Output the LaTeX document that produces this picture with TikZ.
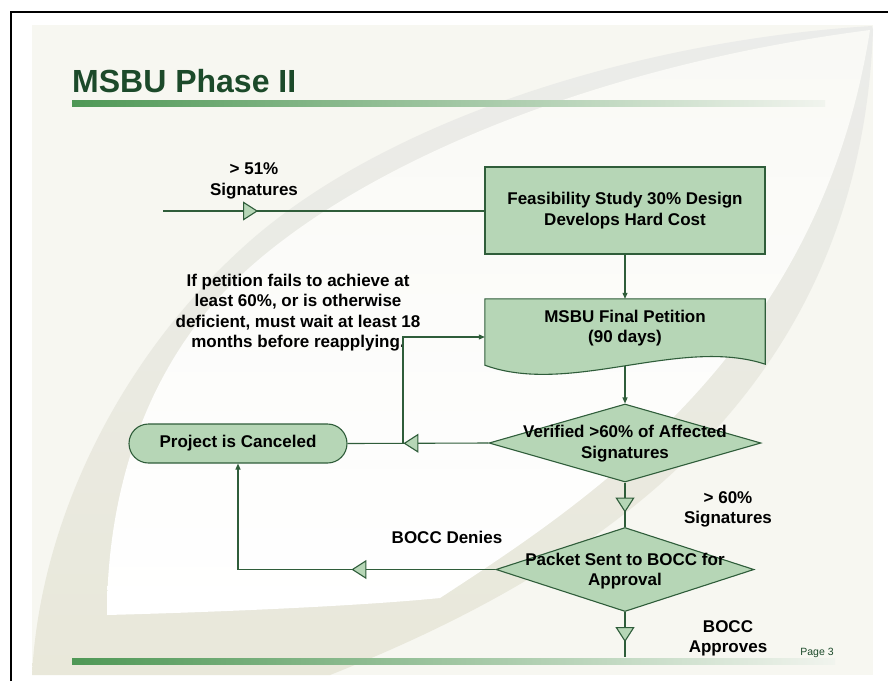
\documentclass[tikz,border=0pt]{standalone}
\usepackage{fontspec}
\setmainfont{Liberation Sans}
\usetikzlibrary{arrows.meta,shapes.geometric,decorations.markings,calc}
\definecolor{pagecream}{HTML}{F7F7F1}
\definecolor{swooshtop}{HTML}{EBECEA}
\definecolor{swooshbot}{HTML}{E9E8DA}
\definecolor{leaftop}{HTML}{F9F9F5}
\definecolor{titlegreen}{HTML}{1C4A2A}
\definecolor{barleft}{HTML}{4F9856}
\definecolor{barright}{HTML}{F1F4EE}
\definecolor{nodefill}{HTML}{B6D6B6}
\definecolor{linegreen}{HTML}{2F5D3A}
\pgfdeclarelayer{back}
\pgfdeclarelayer{shapes}
\pgfsetlayers{back,shapes,main}
\tikzset{
  tri/.tip={Triangle[length=15pt,width=19pt,fill=nodefill]},
  head/.tip={Triangle[length=6pt,width=5pt]},
  conn/.style={draw=linegreen, line width=1.1pt},
  marked/.style={postaction={decorate},
    decoration={markings,mark=at position #1 with {\arrow{tri}}}},
  flowtext/.style={font=\fontsize{17}{20.3}\selectfont\bfseries, align=center, inner sep=0pt},
  procbox/.style={draw=linegreen, fill=nodefill, line width=1.1pt},
}
\begin{document}
\begin{tikzpicture}[x=1pt,y=-1pt]
\useasboundingbox (0,0) rectangle (888,681);
\begin{pgfonlayer}{back}
  \fill[white] (0,0) rectangle (888,681);
  \fill[pagecream] (32,25) rectangle (873,675);
  % sweeping band of the slide background
  \shade[top color=swooshtop,bottom color=swooshbot]
    (872,26) .. controls (640,40) and (380,120) .. (240,250)
    .. controls (120,360) and (40,520) .. (32,675)
    -- (330,675) .. controls (620,560) and (860,380) .. (873,30) -- cycle;
  % pale leaf inside the band
  \shade[top color=leaftop,bottom color=white]
    (870,30) .. controls (560,70) and (300,190) .. (200,320)
    .. controls (130,410) and (107,520) .. (107,615)
    .. controls (220,612) and (360,606) .. (440,598)
    .. controls (590,500) and (820,350) .. (870,30) -- cycle;
  % title and footer rules
  \shade[left color=barleft,right color=barright] (72,100) rectangle (825,106);
  \shade[left color=barleft,right color=barright] (72,658) rectangle (835,664);
  % slide frame
  \draw[black,line width=2.2pt] (11,681) -- (11,12) -- (888,12);
\end{pgfonlayer}

% title
\node[inner sep=0pt, anchor=base west, font=\fontsize{32}{36}\selectfont\bfseries,
      text=titlegreen] (title) at (72,92) {MSBU Phase II};

% process steps
\node[procbox, flowtext, minimum width=280pt, minimum height=87pt] (feas) at (625,210.5)
  {Feasibility Study 30\% Design\\Develops Hard Cost};
\node[flowtext, minimum width=280pt, minimum height=58pt] (pet) at (625,328)
  {MSBU Final Petition\\(90 days)};
\begin{pgfonlayer}{shapes}
  \path[procbox] (pet.north west) -- (pet.north east) -- ([yshift=-7pt]pet.south east)
    .. controls +(-85,-28) and +(85,31) .. ([yshift=-8pt]pet.south west) -- cycle;
\end{pgfonlayer}
\node[diamond, procbox, minimum width=272pt, minimum height=78pt, inner sep=0pt] (ver) at (625,443) {};
\node[flowtext] (vertxt) at (625,443.5) {Verified >60\% of Affected\\Signatures};
\node[diamond, procbox, minimum width=258pt, minimum height=84pt, inner sep=0pt] (pack) at (625,569.5) {};
\node[flowtext] (packtxt) at (625,571) {Packet Sent to BOCC for\\Approval};
\node[procbox, flowtext, rounded corners=19.5pt, minimum width=218pt, minimum height=39pt] (proj) at (238,443.5)
  {Project is Canceled};

% labels
\node[flowtext] (l51) at (254,181) {> 51\%\\Signatures};
\node[flowtext] (lrule) at (298,312.5)
  {If petition fails to achieve at\\least 60\%, or is otherwise\\deficient, must wait at least 18\\months before reapplying.};
\node[flowtext] (l60) at (728,509.5) {> 60\%\\Signatures};
\node[flowtext, anchor=base] (ldeny) at (447,543) {BOCC Denies};
\node[flowtext] (lappr) at (728,638) {BOCC\\Approves};
\node[inner sep=0pt, anchor=base, font=\fontsize{10.5}{12}\selectfont, text=titlegreen] (pg) at (817,655) {Page 3};

% connectors
\coordinate (src) at (163,211);
\coordinate (junc) at (403,443);
\coordinate (out) at (625,657);
\draw[conn, marked=95pt] (src) -- (src -| feas.west);
\draw[conn, -{head}] (feas.south) -- (pet.north);
\draw[conn, -{head}] ([yshift=-9pt]pet.south) -- (ver.north);
\draw[conn, marked=85pt] (ver.west) -- (proj.east);
\draw[conn, -{head}] (junc) |- ([yshift=-9pt]pet.west);
\draw[conn, marked=30pt] (ver.south) -- (pack.north);
\draw[conn, marked=144pt, -{head}] (pack.west) -| (proj.south);
\draw[conn, marked=30pt] (pack.south) -- (out);
\end{tikzpicture}
\end{document}
